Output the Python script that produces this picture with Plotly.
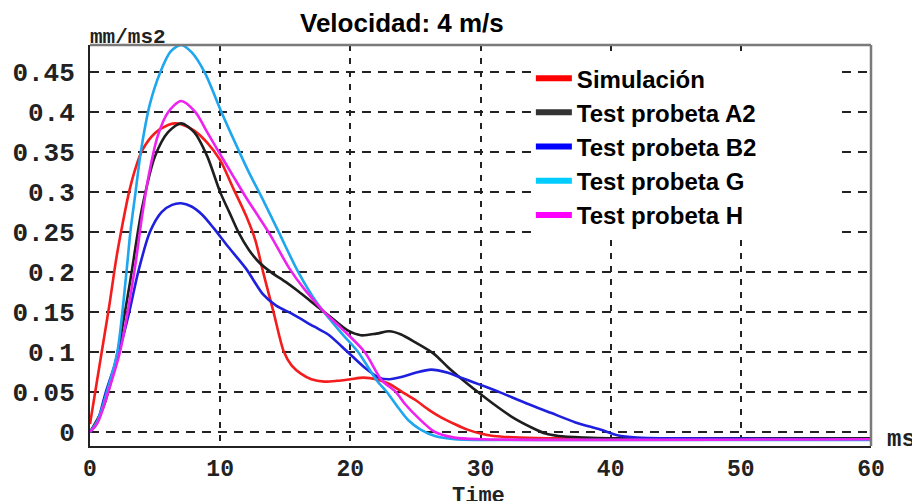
import plotly.graph_objects as go

# ---- data ----
t_sim = [0, 0.5, 1, 1.5, 2, 2.5, 3, 3.5, 4, 5, 6, 6.5, 7, 8, 9, 10, 11, 12, 12.7, 13.3, 14.1, 14.9,
         15.5, 16.2, 17, 18, 19, 20, 21, 22, 23, 24, 25, 26, 27, 28, 29, 30, 31, 33, 36, 40, 50, 60]
v_sim = [0.01, 0.06, 0.11, 0.16, 0.215, 0.26, 0.3, 0.33, 0.352, 0.374, 0.384, 0.386, 0.385, 0.377, 0.362,
         0.34, 0.305, 0.27, 0.24, 0.2, 0.15, 0.1, 0.083, 0.073, 0.066, 0.063, 0.064, 0.066, 0.068, 0.066,
         0.06, 0.05, 0.04, 0.028, 0.018, 0.01, 0.003, -0.002, -0.005, -0.007, -0.008, -0.008, -0.008, -0.008]

t_a2 = [0, 1, 2, 3, 4, 5, 6, 7, 8, 9, 10, 10.7, 11.4, 12.2, 13, 13.9, 15, 16, 17, 18, 19, 19.8, 20.8, 22,
        23, 23.9, 25, 26.4, 27.5, 28.5, 29.8, 31, 32.5, 34, 35, 36, 38, 40, 50, 60]
v_a2 = [0, 0.03, 0.09, 0.18, 0.28, 0.345, 0.375, 0.386, 0.375, 0.345, 0.3, 0.275, 0.25, 0.228, 0.212, 0.2,
        0.188, 0.176, 0.163, 0.15, 0.137, 0.127, 0.121, 0.123, 0.126, 0.122, 0.112, 0.098, 0.081, 0.067,
        0.05, 0.035, 0.018, 0.005, -0.002, -0.005, -0.007, -0.008, -0.008, -0.008]

t_b2 = [0, 0.5, 1.2, 2.2, 3, 3.7, 4.6, 5.5, 6.3, 7, 7.8, 8.6, 9.5, 10.6, 12, 13.3, 14.3, 15.5, 17.2, 18.3,
        19.8, 21, 22.2, 23, 24, 25, 26.2, 27.5, 28.5, 29.5, 30.5, 31.6, 33.5, 35.4, 37.3, 39.2, 40.5, 42, 45, 60]
v_b2 = [0, 0.01, 0.049, 0.099, 0.149, 0.2, 0.25, 0.275, 0.284, 0.286, 0.282, 0.272, 0.255, 0.232, 0.204, 0.172,
        0.158, 0.148, 0.132, 0.122, 0.1, 0.082, 0.068, 0.066, 0.069, 0.074, 0.078, 0.074, 0.068, 0.062,
        0.056, 0.049, 0.036, 0.024, 0.012, 0.003, -0.004, -0.007, -0.008, -0.009]

t_g = [0, 0.6, 1.3, 2.1, 2.8, 3.1, 3.5, 3.9, 4.6, 5.4, 6.2, 7, 7.8, 8.8, 10.1, 11.2, 12.2, 13.3, 14.5, 16,
       17.5, 19.3, 20.6, 22, 22.8, 23.7, 24.5, 25.4, 26.5, 28, 30, 60]
v_g = [0, 0.015, 0.05, 0.1, 0.2, 0.25, 0.3, 0.35, 0.41, 0.45, 0.476, 0.484, 0.475, 0.45, 0.4, 0.36, 0.325,
       0.29, 0.25, 0.2, 0.16, 0.124, 0.1, 0.065, 0.05, 0.03, 0.014, 0.003, -0.005, -0.009, -0.01, -0.01]

t_h = [0, 0.6, 1.4, 2.3, 3.4, 4, 4.5, 5.2, 6, 7, 8.1, 9, 9.9, 11, 12, 13, 13.9, 15.3, 16.5, 18, 19.3,
       21.1, 22.4, 23.5, 24.2, 25.2, 26.5, 28, 30, 60]
v_h = [0, 0.012, 0.05, 0.1, 0.2, 0.27, 0.32, 0.37, 0.4, 0.414, 0.4, 0.375, 0.35, 0.32, 0.293, 0.268, 0.245,
       0.205, 0.178, 0.15, 0.13, 0.1, 0.065, 0.05, 0.035, 0.018, 0.0, -0.007, -0.009, -0.009]

names = ["Simulación", "Test probeta A2", "Test probeta B2", "Test probeta G", "Test probeta H"]
line_colors = ["#f41c1c", "#1e1e1e", "#1f1fde", "#1ea6ee", "#ee22ee"]
legend_colors = ["#ff0000", "#333333", "#0000ff", "#00ccff", "#ff00ff"]

x_ticks = [0, 10, 20, 30, 40, 50, 60]
y_ticks = [0, 0.05, 0.1, 0.15, 0.2, 0.25, 0.3, 0.35, 0.4, 0.45]
x_range = [0, 60]
y_range = [-0.0175, 0.484]

series = [(t_sim, v_sim), (t_a2, v_a2), (t_b2, v_b2), (t_g, v_g), (t_h, v_h)]

fig = go.Figure()
for (t, v), c in zip(series, line_colors):
    fig.add_trace(go.Scatter(x=t, y=v, mode="lines", line=dict(color=c, width=2.6, shape="spline", smoothing=0.8),
                             showlegend=False, hoverinfo="skip"))
# legend entries; the white legend panel in the reference is wider than its text,
# so the labels are padded with non-breaking spaces to widen the legend background
PAD = "\u00a0" * 12
for n, c in zip(names, legend_colors):
    fig.add_trace(go.Scatter(x=[None], y=[None], mode="lines", name=n + PAD, line=dict(color=c, width=6)))

MONO = "Liberation Mono, Courier New, monospace"

fig.add_shape(type="line", xref="paper", yref="paper", x0=0, x1=1, y0=1, y1=1,
              line=dict(color="#7a7a7a", width=2.5))
fig.add_shape(type="line", xref="paper", yref="paper", x0=1, x1=1, y0=0, y1=1,
              line=dict(color="#7a7a7a", width=2.5))

fig.update_layout(
    width=912, height=501,
    margin=dict(l=88, r=41, t=45, b=55),
    paper_bgcolor="white", plot_bgcolor="white",
    showlegend=True,
    legend=dict(x=0.5645, y=0.9725, xanchor="left", yanchor="top",
                bgcolor="white", borderwidth=0,
                font=dict(family="Liberation Sans, Arial, sans-serif", size=24, color="#000000",
                          weight="bold"),
                itemwidth=36),
    xaxis=dict(range=x_range, tickvals=x_ticks, showgrid=True, gridcolor="#222222", gridwidth=1.5,
               griddash="6px,7px", zeroline=False, showline=True, linecolor="#222222", linewidth=2,
               ticks="", tickfont=dict(family=MONO, size=23, color="#222222", weight="bold"),
               ticklabelstandoff=0),
    yaxis=dict(range=y_range, tickvals=y_ticks, showgrid=True, gridcolor="#222222", gridwidth=1.5,
               griddash="9px,7px", zeroline=False, showline=True, linecolor="#222222", linewidth=2,
               ticks="", tickfont=dict(family=MONO, size=26, color="#222222", weight="bold"),
               ticklabelstandoff=8),
    annotations=[
        dict(text="Velocidad: 4 m/s", xref="paper", yref="paper", x=0.3997, y=1.055,
             xanchor="center", yanchor="middle", showarrow=False,
             font=dict(family="Liberation Sans, Arial, sans-serif", size=26, color="#000000", weight="bold")),
        dict(text="mm/ms2", xref="paper", yref="paper", x=-0.003, y=1.0175, xanchor="left", yanchor="middle",
             showarrow=False, font=dict(family=MONO, size=21, color="#222222", weight="bold")),
        dict(text="Time", xref="paper", yref="paper", x=0.498, y=-0.125, xanchor="center", yanchor="middle",
             showarrow=False, font=dict(family=MONO, size=22, color="#222222", weight="bold")),
        dict(text="ms", xref="paper", yref="paper", x=1.0179, y=0.015, xanchor="left", yanchor="middle",
             showarrow=False, font=dict(family=MONO, size=24, color="#222222", weight="bold")),
    ],
)

fig.write_html("out.html")
